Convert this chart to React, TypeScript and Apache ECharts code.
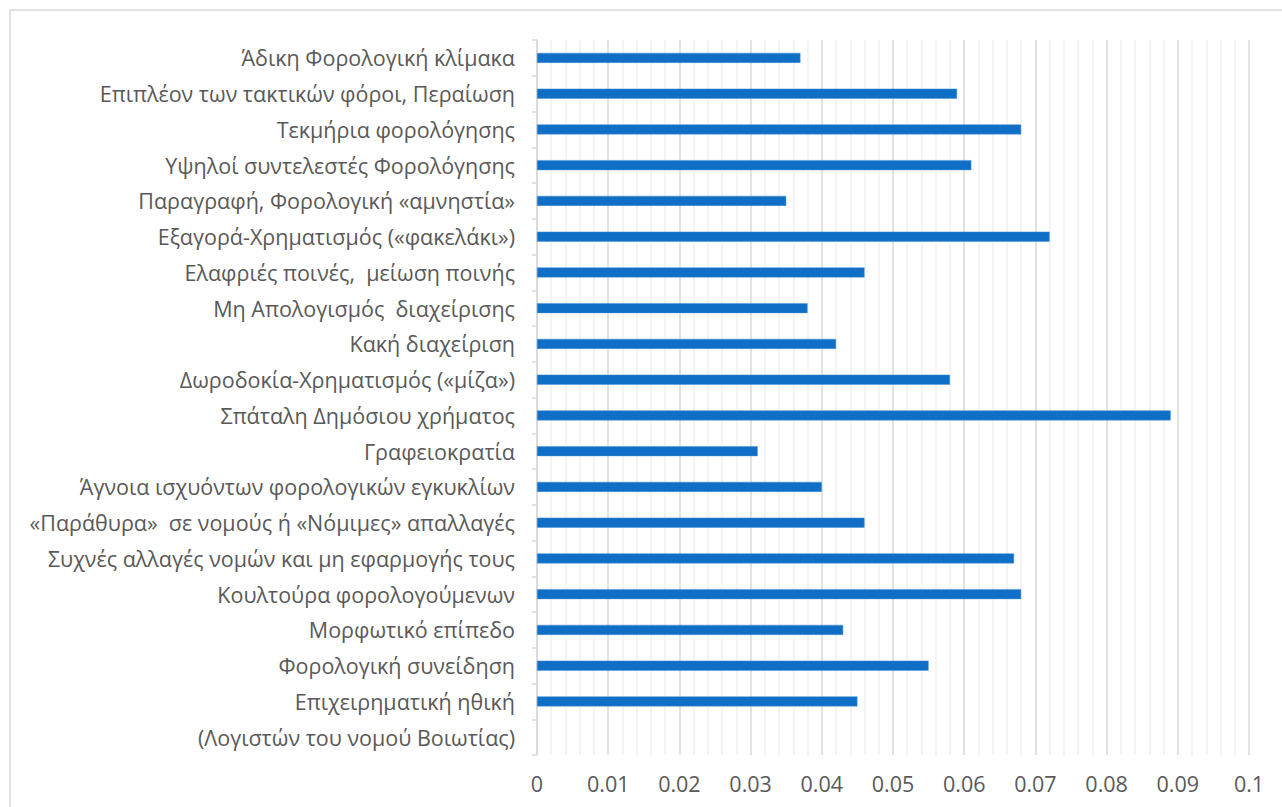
import React, { useEffect, useRef } from "react";
import * as echarts from "echarts";

// Categories listed top to bottom
const categories: string[] = [
  "Άδικη Φορολογική κλίμακα",
  "Επιπλέον των τακτικών φόροι, Περαίωση",
  "Τεκμήρια φορολόγησης",
  "Υψηλοί συντελεστές Φορολόγησης",
  "Παραγραφή, Φορολογική «αμνηστία»",
  "Εξαγορά-Χρηματισμός («φακελάκι»)",
  "Ελαφριές ποινές,  μείωση ποινής",
  "Μη Απολογισμός  διαχείρισης",
  "Κακή διαχείριση",
  "Δωροδοκία-Χρηματισμός («μίζα»)",
  "Σπάταλη Δημόσιου χρήματος",
  "Γραφειοκρατία",
  "Άγνοια ισχυόντων φορολογικών εγκυκλίων",
  "«Παράθυρα»  σε νομούς ή «Νόμιμες» απαλλαγές",
  "Συχνές αλλαγές νομών και μη εφαρμογής τους",
  "Κουλτούρα φορολογούμενων",
  "Μορφωτικό επίπεδο",
  "Φορολογική συνείδηση",
  "Επιχειρηματική ηθική",
  "(Λογιστών του νομού Βοιωτίας)",
];

const values: (number | null)[] = [
  0.037, 0.059, 0.068, 0.061, 0.035, 0.072, 0.046, 0.038, 0.042, 0.058,
  0.089, 0.031, 0.04, 0.046, 0.067, 0.068, 0.043, 0.055, 0.045, null,
];

const xMin = 0;
const xMax = 0.1;
const xStep = 0.01;

const FONT = "'Open Sans', Lato, sans-serif";

export default function App() {
  const ref = useRef<HTMLDivElement>(null);

  useEffect(() => {
    if (!ref.current) return;
    const chart = echarts.init(ref.current, undefined, { renderer: "svg" });
    chart.setOption({
      animation: false,
      backgroundColor: "#ffffff",
      textStyle: { fontFamily: FONT },
      graphic: [
        {
          type: "rect",
          shape: { x: 10, y: 10, width: 1300, height: 830 },
          style: { fill: "none", stroke: "#d9d9d9", lineWidth: 1.5 },
          silent: true,
        },
      ],
      grid: { left: 537, right: 33, top: 40, bottom: 52 },
      xAxis: {
        type: "value",
        min: xMin,
        max: xMax,
        interval: xStep,
        axisLine: { show: false },
        axisTick: { show: false },
        axisLabel: {
          color: "#595959",
          fontSize: 21.5,
          fontFamily: FONT,
          margin: 17,
          formatter: (v: number) => String(parseFloat(v.toFixed(3))),
        },
        splitLine: { show: true, lineStyle: { color: "#d9d9d9", width: 1.5 } },
        minorTick: { show: false, splitNumber: 5 },
        minorSplitLine: { show: true, lineStyle: { color: "#f0f0f0", width: 1.5 } },
      },
      yAxis: {
        type: "category",
        inverse: true,
        data: categories,
        axisLine: { show: true, lineStyle: { color: "#d9d9d9", width: 1.5 } },
        axisTick: { show: true, length: 5, lineStyle: { color: "#d9d9d9", width: 1.5 } },
        axisLabel: {
          color: "#595959",
          fontSize: 21.5,
          fontFamily: FONT,
          margin: 22,
        },
        splitLine: { show: false },
      },
      series: [
        {
          type: "bar",
          data: values,
          barWidth: 10,
          itemStyle: { color: "#0f6fc6", borderColor: "#4a93d6", borderWidth: 0.5 },
        },
      ],
    });
    return () => chart.dispose();
  }, []);

  return (
    <div
      ref={ref}
      style={{ position: "absolute", left: 0, top: 0, width: 1282, height: 807 }}
    />
  );
}
